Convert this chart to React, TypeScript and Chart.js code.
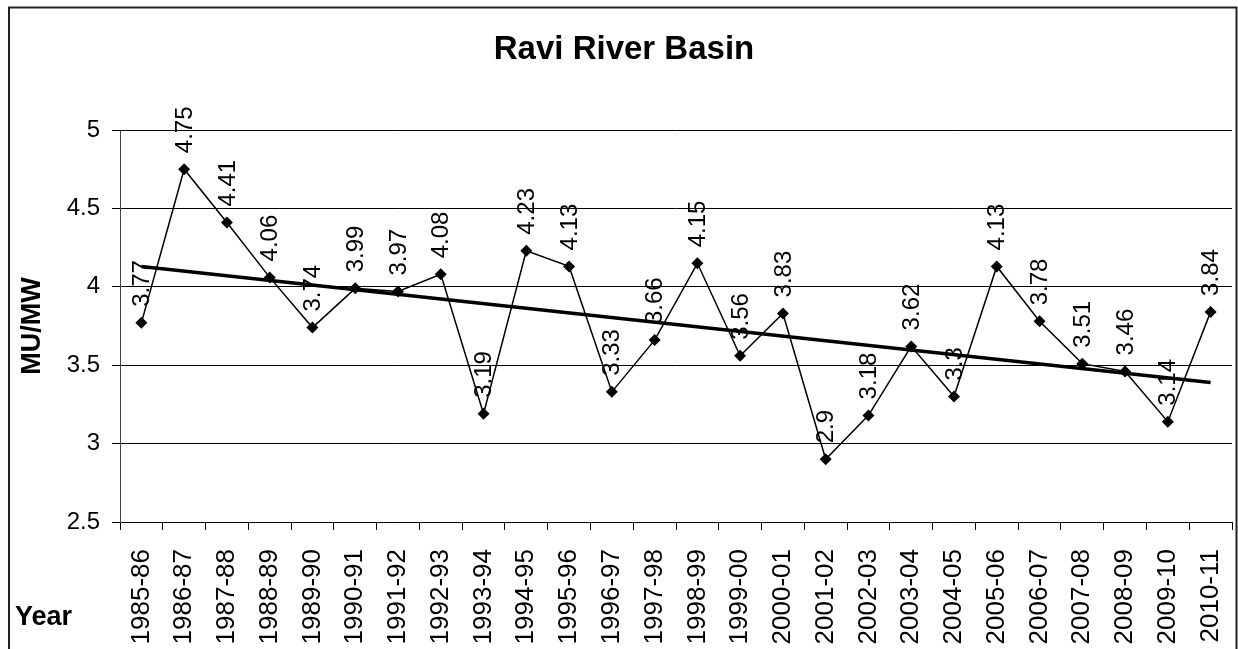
import React, { useEffect, useRef } from "react";
import { Chart, registerables } from "chart.js";

Chart.register(...registerables);

const titleText = "Ravi River Basin";
const yAxisTitle = "MU/MW";
const xAxisTitle = "Year";

const categories = [
  "1985-86", "1986-87", "1987-88", "1988-89", "1989-90", "1990-91", "1991-92",
  "1992-93", "1993-94", "1994-95", "1995-96", "1996-97", "1997-98", "1998-99",
  "1999-00", "2000-01", "2001-02", "2002-03", "2003-04", "2004-05", "2005-06",
  "2006-07", "2007-08", "2008-09", "2009-10", "2010-11",
];

const muPerMw = [
  3.77, 4.75, 4.41, 4.06, 3.74, 3.99, 3.97, 4.08, 3.19, 4.23, 4.13, 3.33, 3.66,
  4.15, 3.56, 3.83, 2.9, 3.18, 3.62, 3.3, 4.13, 3.78, 3.51, 3.46, 3.14, 3.84,
];

// Linear trend line end values
const trendEnds = [4.13, 3.39];

const yTicks = [2.5, 3, 3.5, 4, 4.5, 5];

const FONT = "'Liberation Sans', Arial, sans-serif";

export default function App() {
  const canvasRef = useRef<HTMLCanvasElement | null>(null);

  useEffect(() => {
    const canvas = canvasRef.current;
    if (!canvas) return;

    const trendData = categories.map((_, i) =>
      i === 0 ? trendEnds[0] : i === categories.length - 1 ? trendEnds[1] : null
    );

    const decorPlugin = {
      id: "decor",
      beforeDraw(chart: any) {
        const ctx = chart.ctx;
        ctx.save();
        ctx.fillStyle = "#ffffff";
        ctx.fillRect(0, 0, chart.width, chart.height);
        ctx.restore();
      },
      afterDraw(chart: any) {
        const ctx = chart.ctx;
        const area = chart.chartArea;
        ctx.save();
        // frame
        ctx.strokeStyle = "#222";
        ctx.lineWidth = 2;
        ctx.strokeRect(9, 7.5, 1227.5, 700);
        // title
        ctx.fillStyle = "#000";
        ctx.font = `bold 33px ${FONT}`;
        ctx.textAlign = "center";
        ctx.textBaseline = "middle";
        ctx.fillText(titleText, 624, 50);
        // y axis title
        ctx.save();
        ctx.translate(33, (area.top + area.bottom) / 2);
        ctx.rotate(-Math.PI / 2);
        ctx.font = `bold 27px ${FONT}`;
        ctx.textAlign = "center";
        ctx.textBaseline = "middle";
        ctx.fillText(yAxisTitle, 0, 0);
        ctx.restore();
        // x axis title
        ctx.font = `bold 27px ${FONT}`;
        ctx.textAlign = "left";
        ctx.textBaseline = "middle";
        ctx.fillText(xAxisTitle, 15, 618);
        ctx.restore();
      },
      afterDatasetsDraw(chart: any) {
        const ctx = chart.ctx;
        const meta = chart.getDatasetMeta(0);
        ctx.save();
        ctx.fillStyle = "#000";
        ctx.font = `24px ${FONT}`;
        ctx.textAlign = "left";
        ctx.textBaseline = "middle";
        meta.data.forEach((pt: any, i: number) => {
          ctx.save();
          ctx.translate(pt.x, pt.y - 16);
          ctx.rotate(-Math.PI / 2);
          ctx.fillText(String(muPerMw[i]), 0, 1);
          ctx.restore();
        });
        ctx.restore();
      },
    };

    const chart = new Chart(canvas, {
      type: "line",
      data: {
        labels: categories,
        datasets: [
          {
            label: "MU/MW",
            data: muPerMw,
            borderColor: "#000",
            backgroundColor: "#000",
            borderWidth: 1.5,
            pointStyle: "rectRot",
            pointRadius: 6,
            pointBorderWidth: 0,
            pointBackgroundColor: "#000",
            tension: 0,
          },
          {
            label: "Linear trend",
            data: trendData,
            borderColor: "#000",
            borderWidth: 3.5,
            pointRadius: 0,
            spanGaps: true,
            tension: 0,
          },
        ],
      },
      options: {
        responsive: false,
        animation: false,
        devicePixelRatio: 1,
        layout: { padding: { left: 0, right: 2, top: 130, bottom: 0 } },
        plugins: {
          legend: { display: false },
          title: { display: false },
          tooltip: { enabled: false },
        },
        scales: {
          x: {
            offset: true,
            afterFit(scale: any) {
              scale.height = 127;
              scale.paddingLeft = 0;
              scale.paddingRight = 0;
            },
            grid: {
              offset: true,
              drawOnChartArea: false,
              drawTicks: true,
              tickLength: 8,
              color: "#000",
            },
            border: { display: true, color: "#000", width: 1 },
            ticks: {
              autoSkip: false,
              maxRotation: 90,
              minRotation: 90,
              padding: 19,
              color: "#000",
              font: { family: FONT, size: 26 },
            },
          },
          y: {
            min: 2.5,
            max: 5,
            afterFit(scale: any) {
              scale.width = 120;
            },
            afterBuildTicks(scale: any) {
              scale.ticks = yTicks.map((v) => ({ value: v }));
            },
            grid: {
              color: "#000",
              lineWidth: 1,
              drawTicks: true,
              tickLength: 8,
            },
            border: { display: true, color: "#444", width: 1 },
            ticks: {
              padding: 12,
              color: "#000",
              font: { family: FONT, size: 24 },
              callback: (v: any) => String(v),
            },
          },
        },
      },
      plugins: [decorPlugin],
    });

    return () => chart.destroy();
  }, []);

  return (
    <canvas
      ref={canvasRef}
      width={1238}
      height={649}
      style={{ position: "fixed", left: 0, top: 0, width: 1238, height: 649 }}
    />
  );
}
